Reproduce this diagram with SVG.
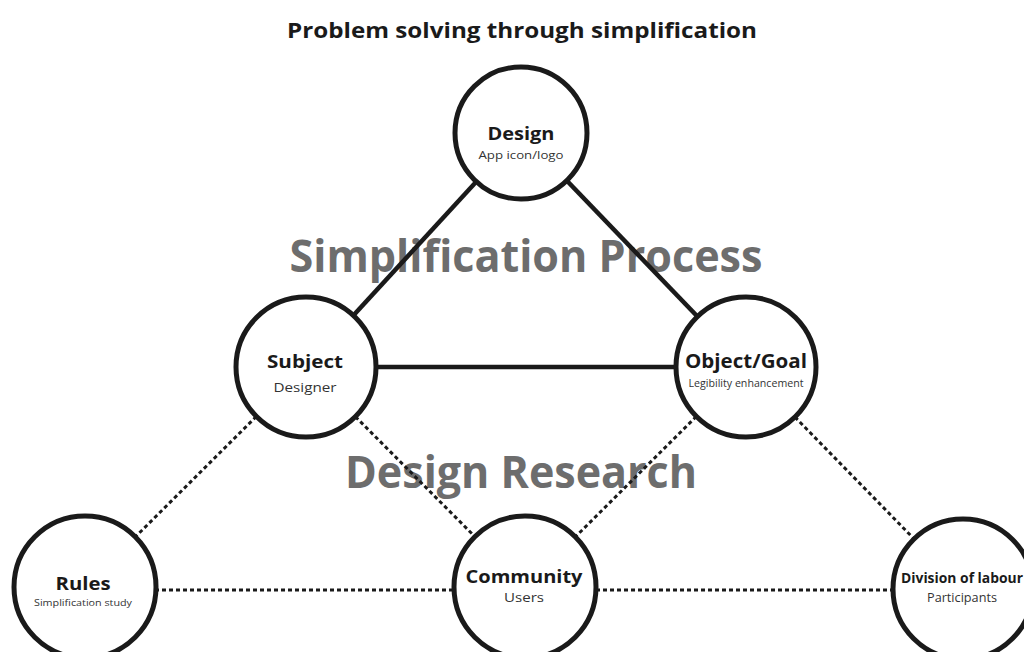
<svg xmlns="http://www.w3.org/2000/svg" width="1024" height="652" viewBox="0 0 1024 652">
<style>
  text { font-family: "Open Sans", "Noto Sans", "Liberation Sans", sans-serif; text-anchor: middle; fill: #1a1a1a; }
  .title { font-size: 21px; font-weight: bold; }
  .big { font-size: 44px; font-weight: bold; fill: #6d6d6d; }
  .name { font-size: 18px; font-weight: bold; }
  .sub { font-size: 12px; fill: #333; }
  .node circle { fill: #fff; stroke: #1a1a1a; stroke-width: 5; }
  .solid { stroke: #1a1a1a; stroke-width: 4.5; fill: none; }
  .dot { stroke: #1a1a1a; stroke-width: 3; stroke-dasharray: 4 3; fill: none; }
</style>
<rect width="1024" height="652" fill="#fff"/>
<text class="title" x="522" y="38" textLength="470" lengthAdjust="spacingAndGlyphs">Problem solving through simplification</text>
<text class="big" x="526" y="272" textLength="473" lengthAdjust="spacingAndGlyphs">Simplification Process</text>
<text class="big" x="521" y="488" textLength="352" lengthAdjust="spacingAndGlyphs">Design Research</text>
<g id="connectors">
  <line class="solid" x1="521" y1="133" x2="306" y2="367"/>
  <line class="solid" x1="521" y1="133" x2="746" y2="367"/>
  <line class="solid" x1="306" y1="367" x2="746" y2="367"/>
  <line class="dot" x1="306" y1="367" x2="85" y2="587"/>
  <line class="dot" x1="306" y1="367" x2="525" y2="587"/>
  <line class="dot" x1="746" y1="367" x2="525" y2="587"/>
  <line class="dot" x1="746" y1="367" x2="963" y2="589"/>
  <line class="dot" x1="85" y1="590" x2="963" y2="590"/>
</g>
<g id="design" class="node">
  <circle cx="521" cy="133" r="66"/>
  <text class="name" x="521" y="140" textLength="67" lengthAdjust="spacingAndGlyphs">Design</text>
  <text class="sub" x="521" y="159" textLength="85" lengthAdjust="spacingAndGlyphs" style="font-size:11px">App icon/logo</text>
</g>
<g id="subject" class="node">
  <circle cx="306" cy="367" r="70"/>
  <text class="name" x="305" y="368" textLength="76" lengthAdjust="spacingAndGlyphs">Subject</text>
  <text class="sub" x="305" y="392" textLength="63" lengthAdjust="spacingAndGlyphs" style="font-size:13px">Designer</text>
</g>
<g id="object" class="node">
  <circle cx="746" cy="367" r="70"/>
  <text class="name" x="746" y="368" textLength="122" lengthAdjust="spacingAndGlyphs" style="font-size:19px">Object/Goal</text>
  <text class="sub" x="746" y="387" textLength="115" lengthAdjust="spacingAndGlyphs" style="font-size:10px">Legibility enhancement</text>
</g>
<g id="rules" class="node">
  <circle cx="85" cy="587" r="71"/>
  <text class="name" x="83" y="590" textLength="55" lengthAdjust="spacingAndGlyphs">Rules</text>
  <text class="sub" x="83" y="606" textLength="98" lengthAdjust="spacingAndGlyphs" style="font-size:9.5px">Simplification study</text>
</g>
<g id="community" class="node">
  <circle cx="525" cy="587" r="71"/>
  <text class="name" x="524" y="583" textLength="117" lengthAdjust="spacingAndGlyphs">Community</text>
  <text class="sub" x="524" y="602" textLength="40" lengthAdjust="spacingAndGlyphs" style="font-size:13px">Users</text>
</g>
<g id="division" class="node">
  <circle cx="963" cy="589" r="70"/>
  <text class="name" x="962" y="583" textLength="122" lengthAdjust="spacingAndGlyphs" style="font-size:13.5px">Division of labour</text>
  <text class="sub" x="962" y="602" textLength="70" lengthAdjust="spacingAndGlyphs">Participants</text>
</g>
</svg>
